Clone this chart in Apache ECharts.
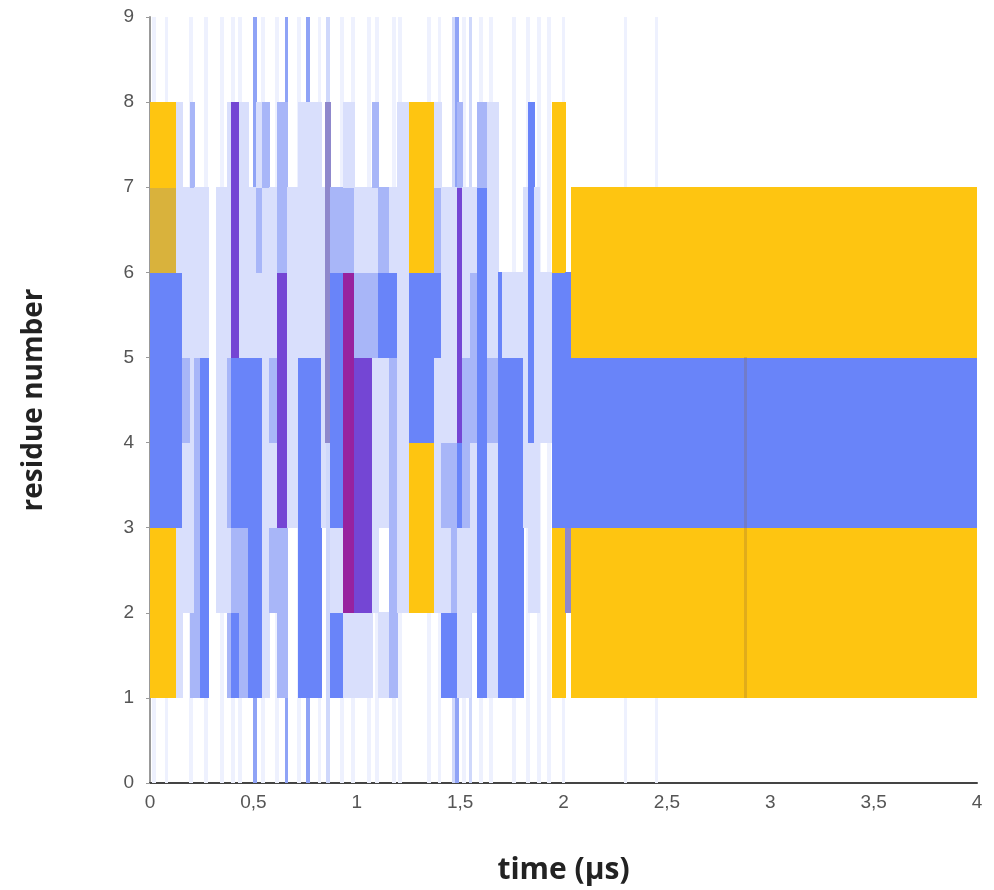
<!DOCTYPE html>
<html>
<head>
<meta charset="utf-8">
<script src="https://cdn.jsdelivr.net/npm/echarts@6/dist/echarts.min.js"></script>
<style>html,body{margin:0;padding:0;background:#fff}#c{width:994px;height:890px}</style>
</head>
<body>
<div id="c"></div>
<script>
// time segment boundaries (μs)
const segBounds = [0, 0.13, 0.155, 0.195, 0.215, 0.245, 0.285, 0.32, 0.375, 0.395, 0.435, 0.475, 0.515, 0.545, 0.58, 0.615, 0.665, 0.72, 0.83, 0.85, 0.875, 0.935, 0.99, 1.075, 1.105, 1.16, 1.195, 1.255, 1.375, 1.41, 1.46, 1.485, 1.51, 1.55, 1.585, 1.63, 1.685, 1.705, 1.805, 1.83, 1.86, 1.885, 1.945, 2.01, 2.04, 4.0];
// state of each residue per segment: W none, L light, M medium, B blue, Y yellow, O olive, P purple, X magenta, G grey-violet
const res1 = ['Y','L','W','M','M','B','W','W','M','B','M','B','B','L','W','M','W','B','W','W','B','L','L','W','L','M','W','W','W','B','B','L','L','W','B','L','B','B','W','W','W','W','Y','W','Y'];
const res2 = ['Y','L','L','L','M','B','W','L','L','M','M','B','B','L','M','M','W','B','W','W','L','X','P','L','W','M','L','Y','L','L','M','L','L','L','B','L','B','B','W','L','L','W','Y','G','Y'];
const res3 = ['B','B','L','L','M','B','W','L','M','B','B','B','B','L','L','P','L','B','L','W','B','X','P','L','L','M','L','Y','L','M','M','B','M','L','B','L','B','B','L','L','L','W','B','B','B'];
const res4 = ['B','B','M','L','M','B','W','L','M','B','B','B','B','L','M','P','L','B','L','G','B','X','P','L','L','M','L','B','L','L','L','P','M','M','B','M','B','B','L','B','L','L','B','B','B'];
const res5 = ['B','B','L','L','L','L','W','L','L','P','L','L','L','L','L','P','L','L','L','G','B','X','M','M','B','B','L','B','B','L','L','P','L','M','B','L','B','L','L','B','L','L','B','B','Y'];
const res6 = ['O','L','L','L','L','L','W','L','L','P','L','L','M','L','L','M','L','L','L','G','M','M','L','L','M','L','L','Y','M','L','L','P','L','L','B','L','W','W','L','B','L','W','Y','W','Y'];
const res7 = ['Y','L','W','M','W','W','W','W','L','P','L','W','L','M','W','M','W','L','W','G','W','L','W','M','W','W','L','Y','L','W','W','M','W','W','M','L','W','W','W','B','W','W','Y','W','W'];
// faint full-height trace lines (centre time in μs, strength 1..3)
const traceT = [0.02, 0.08, 0.2, 0.27, 0.35, 0.4, 0.435, 0.51, 0.545, 0.615, 0.66, 0.72, 0.765, 0.82, 0.86, 0.93, 0.98, 1.06, 1.1, 1.18, 1.21, 1.35, 1.4, 1.47, 1.485, 1.52, 1.55, 1.6, 1.65, 1.76, 1.83, 1.88, 1.93, 2.0, 2.3, 2.45];
const traceLevel = [1, 1, 1, 1, 1, 1, 1, 3, 1, 1, 3, 1, 3, 1, 2, 1, 1, 1, 1, 1, 1, 1, 1, 2, 3, 1, 2, 1, 1, 1, 1, 1, 1, 1, 1, 1];
// darker stripes inside the stable block (time, from residue, to residue)
const stripeT = [2.88];
const stripeFrom = [1];
const stripeTo = [5];

const palette = {
  L: '#d9dffc', M: '#a8b6f8', B: '#6984f9', Y: '#fec511', O: '#d9b23c',
  P: '#7446d4', X: '#97229f', G: '#8f88cc'
};
const traceColors = ['', '#eef1fe', '#cfd8fb', '#8fa3f6'];
const stripeColor = 'rgba(140,100,60,0.25)';

const rows = [res1, res2, res3, res4, res5, res6, res7];
const cells = [];
for (let s = 0; s < segBounds.length - 1; s++) {
  for (let r = 0; r < rows.length; r++) {
    const code = rows[r][s];
    if (code !== 'W') cells.push([segBounds[s], segBounds[s + 1], r + 1, code]);
  }
}
const traces = traceT.map((t, i) => [t - 0.007, t + 0.007, 0, 9, traceLevel[i]]);
const stripes = stripeT.map((t, i) => [t - 0.003, t + 0.003, stripeFrom[i], stripeTo[i]]);

function rectFrom(api, x0, x1, y0, y1) {
  const a = api.coord([x0, y1]);
  const b = api.coord([x1, y0]);
  const x = Math.floor(a[0]), y = Math.floor(a[1]);
  return { x: x, y: y, width: Math.max(1, Math.ceil(b[0]) - x), height: Math.ceil(b[1]) - y };
}

const chart = echarts.init(document.getElementById('c'), null, { renderer: 'canvas' });
chart.setOption({
  animation: false,
  grid: { left: 150, right: 17, top: 17, bottom: 107, containLabel: false, outerBoundsMode: 'none' },
  xAxis: {
    type: 'value', min: 0, max: 4, interval: 0.5,
    name: 'time (μs)', nameLocation: 'middle', nameGap: 72,
    nameTextStyle: { fontFamily: 'Open Sans', fontWeight: 'bold', fontSize: 30, color: '#222' },
    axisLine: { show: true, lineStyle: { color: '#444', width: 2 } },
    axisTick: { show: false },
    splitLine: { show: false },
    axisLabel: { color: '#555', fontSize: 19, fontFamily: 'Liberation Sans', margin: 10,
      formatter: v => String(v).replace('.', ',') }
  },
  yAxis: {
    type: 'value', min: 0, max: 9, interval: 1,
    name: 'residue number', nameLocation: 'middle', nameGap: 102, nameRotate: 90,
    nameTextStyle: { fontFamily: 'Open Sans', fontWeight: 'bold', fontSize: 28, color: '#222' },
    axisLine: { show: true, lineStyle: { color: '#999', width: 2 } },
    axisTick: { show: true, length: 4, lineStyle: { color: '#999' } },
    splitLine: { show: false },
    axisLabel: { color: '#555', fontSize: 19, fontFamily: 'Liberation Sans', margin: 16 }
  },
  series: [
    {
      type: 'custom', data: traces, z: 1, clip: true,
      renderItem: (params, api) => ({
        type: 'rect', shape: rectFrom(api, api.value(0), api.value(1), api.value(2), api.value(3)),
        style: { fill: traceColors[api.value(4)] }
      })
    },
    {
      type: 'custom', data: cells, z: 2, clip: true,
      dimensions: ['t0', 't1', 'res', { name: 'state', type: 'ordinal' }],
      renderItem: (params, api) => {
        const d = cells[params.dataIndex];
        return {
          type: 'rect', shape: rectFrom(api, d[0], d[1], d[2], d[2] + 1),
          style: { fill: palette[d[3]] }
        };
      }
    },
    {
      type: 'custom', data: stripes, z: 3, clip: true,
      renderItem: (params, api) => ({
        type: 'rect', shape: rectFrom(api, api.value(0), api.value(1), api.value(2), api.value(3)),
        style: { fill: stripeColor }
      })
    }
  ]
});
</script>
</body>
</html>
